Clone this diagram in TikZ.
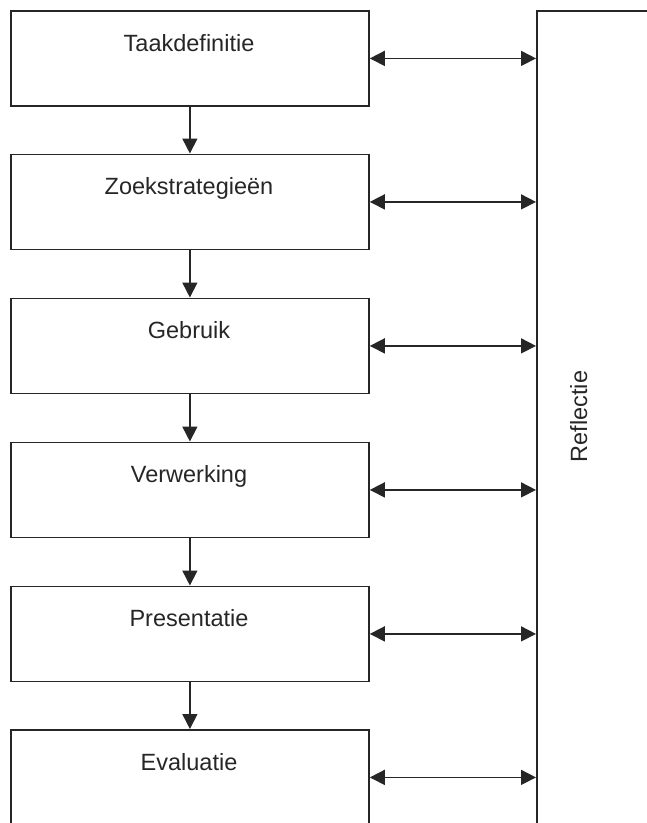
\documentclass[tikz,border=0pt]{standalone}
\usepackage{fontspec}
\setmainfont{Liberation Sans}
\usetikzlibrary{arrows.meta}
\begin{document}
\begin{tikzpicture}[x=1pt,y=-1pt,
  stagebox/.style={draw=black!85, line width=1.8pt, minimum width=358pt, minimum height=95pt, inner sep=0pt, anchor=north west},
  reflbox/.style={draw=black!85, line width=1.8pt, minimum width=200pt, minimum height=830pt, inner sep=0pt, anchor=north west},
  lbl/.style={font=\fontsize{23.5}{28}\selectfont, text=black!85, anchor=base, inner sep=0pt},
  flow/.style={draw=black!85, line width=1.6pt, -{Triangle[length=15pt,width=15pt]}},
  both/.style={draw=black!85, line width=1.6pt, {Triangle[length=15pt,width=15pt]}-{Triangle[length=15pt,width=15pt]}}]
\clip (0,0) rectangle (647,823);
\node[reflbox] (refl) at (536,10) {};
\node[stagebox] (b1) at (10,10) {};
\node[stagebox] (b2) at (10,153.5) {};
\node[stagebox] (b3) at (10,297.5) {};
\node[stagebox] (b4) at (10,441.5) {};
\node[stagebox] (b5) at (10,585.5) {};
\node[stagebox] (b6) at (10,729) {};
\node[lbl] (t1) at (189,51) {Taakdefinitie};
\node[lbl] (t2) at (189,194.5) {Zoekstrategieën};
\node[lbl] (t3) at (189,338.5) {Gebruik};
\node[lbl] (t4) at (189,482.5) {Verwerking};
\node[lbl] (t5) at (189,626.5) {Presentatie};
\node[lbl] (t6) at (189,770) {Evaluatie};
\node[lbl, rotate=90] (tr) at (587,416.5) {Reflectie};
\foreach \a/\b in {b1/b2,b2/b3,b3/b4,b4/b5,b5/b6}{
  \draw[flow] (\a.south) -- (\b.north);
}
\foreach \a in {b1,b2,b3,b4,b5,b6}{
  \draw[both] (\a.east) -- (\a.east -| refl.west);
}
\end{tikzpicture}
\end{document}
